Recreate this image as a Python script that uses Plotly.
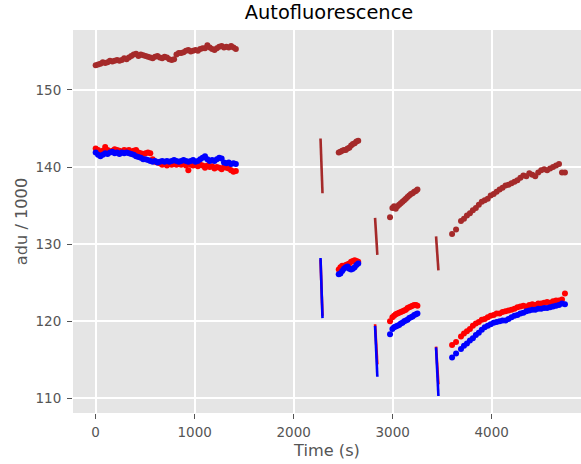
import plotly.graph_objects as go

# ---- segment A (continuous, 0-1416 s) ----
tA = [0, 24, 48, 72, 96, 120, 144, 168, 192, 216, 240, 264, 288, 312, 336, 360, 384, 408, 432, 456,
      480, 504, 528, 552, 576, 600, 624, 648, 672, 696, 720, 744, 768, 792, 816, 840, 864, 888, 912, 936,
      960, 984, 1008, 1032, 1056, 1080, 1104, 1128, 1152, 1176, 1200, 1224, 1248, 1272, 1296, 1320, 1344, 1368, 1392, 1416]
brownA = [153.2, 153.3, 153.4, 153.6, 153.5, 153.6, 153.8, 153.7, 153.8, 153.9, 153.8, 153.9, 154.1, 154.0, 154.2, 154.4, 154.6, 154.7, 154.4, 154.6,
          154.5, 154.4, 154.3, 154.2, 154.1, 154.3, 154.4, 154.2, 154.1, 154.3, 154.2, 154.0, 153.9, 154.0, 154.6, 154.8, 154.8, 154.9, 155.1, 155.2,
          155.0, 155.1, 155.2, 155.1, 155.3, 155.4, 155.4, 155.8, 155.5, 155.3, 155.2, 155.4, 155.6, 155.7, 155.5, 155.6, 155.5, 155.7, 155.5, 155.3]
redA = [142.4, 142.2, 142.0, 142.1, 142.6, 142.2, 142.0, 142.1, 142.3, 142.2, 142.1, 142.0, 142.2, 142.1, 142.2, 142.0, 142.1, 142.2, 141.9, 141.8,
        141.7, 141.8, 141.9, 141.8, 141.0, 140.7, 140.6, 140.5, 140.3, 140.4, 140.2, 140.4, 140.3, 140.4, 140.3, 140.4, 140.3, 140.5, 140.2, 139.6,
        140.3, 140.2, 140.3, 140.1, 140.3, 140.2, 139.9, 140.2, 140.0, 140.1, 139.8, 140.0, 139.9, 139.7, 140.0, 139.9, 139.8, 139.6, 139.4, 139.5]
blueA = [141.9, 141.6, 141.4, 141.6, 141.8, 141.7, 141.9, 142.0, 141.8, 141.9, 141.7, 141.9, 141.8, 141.9, 141.8, 141.7, 141.6, 141.4, 141.3, 141.2,
         141.0, 141.0, 140.9, 140.8, 140.7, 140.8, 140.6, 140.7, 140.8, 140.7, 140.8, 140.7, 140.8, 140.9, 140.8, 140.7, 140.8, 140.9, 140.8, 140.7,
         140.8, 140.9, 140.7, 140.8, 141.0, 141.2, 141.4, 141.0, 140.8, 140.9, 140.8, 141.0, 141.2, 141.1, 140.6, 140.5, 140.6, 140.4, 140.5, 140.4]

# ---- fast drops (streaks) ----
tS1 = [2271, 2276, 2281, 2286, 2291]
brownS1 = [143.7, 141.6, 139.7, 138.1, 136.6]
redS1 = [128.0, 126.1, 124.3, 122.4, 120.7]
blueS1 = [128.2, 126.2, 124.2, 122.3, 120.4]

tS2 = [2822, 2828, 2834, 2840, 2845]
brownS2 = [133.4, 132.2, 131.0, 129.8, 128.6]
redS2 = [119.6, 118.3, 117.0, 115.7, 114.4]
blueS2 = [119.4, 117.7, 116.1, 114.4, 112.8]

tS3 = [3438, 3444, 3450, 3456, 3462]
brownS3 = [131.0, 129.9, 128.8, 127.7, 126.6]
redS3 = [116.7, 115.5, 114.3, 113.0, 111.8]
blueS3 = [116.6, 115.0, 113.4, 111.8, 110.3]

# ---- segment B ----
tB = [2455, 2472, 2490, 2508, 2526, 2544, 2562, 2580, 2598, 2616, 2634, 2652]
brownB = [141.9, 142.0, 142.1, 142.2, 142.2, 142.4, 142.5, 142.8, 143.0, 143.1, 143.3, 143.4]
redB = [126.7, 127.0, 127.2, 127.1, 127.3, 127.4, 127.5, 127.7, 127.8, 127.9, 127.8, 127.7]
blueB = [126.1, 126.2, 126.5, 126.8, 127.0, 127.1, 126.8, 126.7, 126.8, 127.0, 127.3, 127.5]

# ---- segment C ----
tC = [2973, 2997, 3014, 3031, 3048, 3065, 3082, 3099, 3116, 3133, 3150, 3167, 3184, 3201, 3218, 3235, 3250]
brownC = [133.5, 134.7, 134.9, 134.6, 134.9, 135.1, 135.3, 135.5, 135.7, 135.9, 136.1, 136.3, 136.5, 136.6, 136.8, 136.9, 137.1]
redC = [120.0, 120.5, 120.7, 120.9, 121.0, 121.1, 121.2, 121.3, 121.4, 121.5, 121.7, 121.8, 121.9, 122.0, 122.1, 122.1, 122.0]
blueC = [118.3, 119.0, 119.2, 119.3, 119.4, 119.5, 119.7, 119.8, 120.0, 120.1, 120.2, 120.4, 120.5, 120.6, 120.8, 120.9, 121.0]

# ---- segment D ----
tD = [3600, 3640, 3690, 3720, 3750, 3780, 3810, 3840, 3870, 3900, 3930, 3960, 3990, 4020, 4050, 4080, 4110, 4140, 4170,
      4200, 4230, 4260, 4290, 4320, 4350, 4380, 4410, 4440, 4470, 4500, 4530, 4560, 4590, 4620, 4650, 4680, 4710, 4740]
brownD = [131.3, 131.9, 133.0, 133.3, 133.7, 134.0, 134.4, 134.7, 135.1, 135.5, 135.7, 135.9, 136.3, 136.5, 136.8, 137.1, 137.3, 137.6, 137.7,
          137.9, 138.1, 138.3, 138.6, 138.9, 138.8, 139.2, 139.0, 138.8, 139.3, 139.6, 139.7, 139.6, 139.8, 140.0, 140.2, 140.4, 139.3, 139.3]
redD = [116.9, 117.3, 118.0, 118.4, 118.7, 119.0, 119.4, 119.7, 119.9, 120.2, 120.3, 120.5, 120.7, 120.8, 121.0, 121.0, 121.2, 121.3, 121.4,
        121.5, 121.6, 121.8, 121.9, 122.0, 121.9, 122.1, 122.2, 122.1, 122.3, 122.3, 122.4, 122.5, 122.4, 122.6, 122.7, 122.7, 122.8, 123.6]
blueD = [115.3, 115.8, 116.4, 116.8, 117.1, 117.5, 117.8, 118.2, 118.5, 118.9, 119.2, 119.4, 119.6, 119.8, 119.9, 120.0, 120.1, 120.1, 120.3,
         120.5, 120.7, 120.8, 121.0, 121.1, 121.3, 121.4, 121.5, 121.5, 121.6, 121.6, 121.7, 121.7, 121.8, 121.9, 122.0, 122.1, 122.3, 122.2]

xticks = [0, 1000, 2000, 3000, 4000]
yticks = [110, 120, 130, 140, 150]

series = [
    ("brown", "#A52A2A", [brownA, brownB, brownC, brownD], [brownS1, brownS2, brownS3]),
    ("red", "#FF0000", [redA, redB, redC, redD], [redS1, redS2, redS3]),
    ("blue", "#0000FF", [blueA, blueB, blueC, blueD], [blueS1, blueS2, blueS3]),
]
dot_t = [tA, tB, tC, tD]
streak_t = [tS1, tS2, tS3]

fig = go.Figure()
for name, col, dots, streaks in series:
    for ts, vs in zip(streak_t, streaks):
        fig.add_trace(go.Scatter(x=ts, y=vs, mode="lines", line=dict(color=col, width=2.6),
                                 showlegend=False, hoverinfo="skip"))
    xs, ys = [], []
    for ts, vs in zip(dot_t, dots):
        xs += ts
        ys += vs
    fig.add_trace(go.Scatter(x=xs, y=ys, mode="markers", name=name,
                             marker=dict(color=col, size=6, line=dict(width=0)),
                             showlegend=False))

axis_font = dict(family="DejaVu Sans", size=13.5, color="#555555")
fig.update_layout(
    width=581, height=464,
    margin=dict(l=73, r=0, t=30, b=51),
    paper_bgcolor="white", plot_bgcolor="#E5E5E5",
    font=dict(family="DejaVu Sans", color="#555555"),
    title=dict(text="Autofluorescence", x=0.504, xref="paper", xanchor="center",
               y=1 - 12 / 464, yref="container", yanchor="middle",
               font=dict(family="DejaVu Sans", size=19.4, color="#000000")),
    showlegend=False,
)
fig.update_xaxes(range=[-229, 4902], tickvals=xticks, ticktext=[str(v) for v in xticks],
                 showgrid=True, gridcolor="white", gridwidth=1.5, zeroline=False, showline=False,
                 ticks="outside", ticklen=5, tickwidth=1, tickcolor="#555555", tickfont=axis_font,
                 ticklabelstandoff=2,
                 title=dict(text="Time (s)", font=dict(family="DejaVu Sans", size=16.2, color="#555555"), standoff=5))
fig.update_yaxes(range=[108.09, 157.78], tickvals=yticks, ticktext=[str(v) for v in yticks],
                 showgrid=True, gridcolor="white", gridwidth=1.5, zeroline=False, showline=False,
                 ticks="outside", ticklen=5, tickwidth=1, tickcolor="#555555", tickfont=axis_font,
                 ticklabelstandoff=3,
                 title=dict(text="adu / 1000", font=dict(family="DejaVu Sans", size=16.2, color="#555555"), standoff=3))

fig.write_html("out.html")
